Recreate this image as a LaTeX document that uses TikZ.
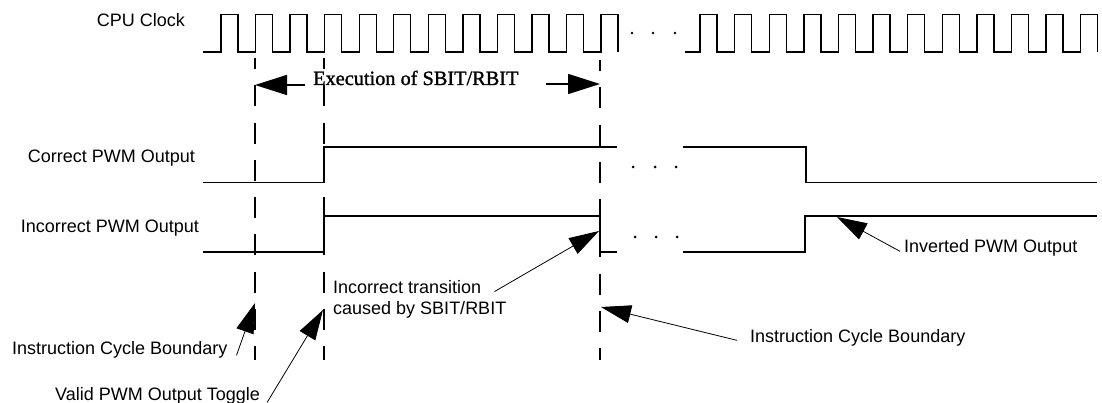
\documentclass[tikz,border=0pt]{standalone}
\usepackage{fontspec}
\setmainfont{Liberation Serif}
\setsansfont{Liberation Sans}
\newfontfamily\exefont[FakeBold=1.3]{Liberation Serif}
\usetikzlibrary{arrows.meta}
\begin{document}
\begin{tikzpicture}[x=1pt,y=-1pt,
  wave/.style={line width=1.4pt, line join=miter},
  bound/.style={line width=1.3pt, dash pattern=on 21pt off 16.3pt, dash phase=10pt},
  lbl/.style={font=\sffamily\fontsize{18}{21}\selectfont, inner sep=0pt},
  note/.style={line width=0.8pt, -{Triangle[length=30pt,width=18pt]}},
  spanarrow/.style={line width=1.6pt, -{Triangle[length=32pt,width=20pt]}},
  dotmark/.style={fill=black, circle, inner sep=0pt, minimum size=3pt}
]
\useasboundingbox (0,0) rectangle (1102,403);

% clock
\draw[wave] (203,52) foreach \k in {0,...,11}{ -- ({221+34.55*\k},52) -- ({221+34.55*\k},14.5) -- ({238+34.55*\k},14.5) -- ({238+34.55*\k},52) };
\draw[wave] (685,52) foreach \k in {0,...,11}{ -- ({700+34.6*\k},52) -- ({700+34.6*\k},14.5) -- ({717+34.6*\k},14.5) -- ({717+34.6*\k},52) };
\foreach \x [count=\i] in {632,653,675} \node[dotmark, minimum size=2.6pt] (cd\i) at (\x,33) {};

% labels
\node[lbl, anchor=base east] (cpu) at (185,27) {CPU Clock};
\node[lbl, anchor=base east] (cor) at (195,163) {Correct PWM Output};
\node[lbl, anchor=base east] (inc) at (199,233) {Incorrect PWM Output};

% boundaries
\coordinate (b1t) at (255,58); \coordinate (b1b) at (255,360);
\coordinate (b2t) at (324,58); \coordinate (b2b) at (324,360);
\coordinate (b3t) at (600,60); \coordinate (b3b) at (600,360);
\draw[bound] (b1t) -- (b1b);
\draw[bound] (b2t) -- (b2b);
\draw[bound] (b3t) -- (b3b);

% execution span
\node[anchor=base west, inner sep=0pt, font=\exefont\fontsize{20.3}{24}\selectfont] (exe) at (313,85) {Execution of SBIT/RBIT};
\coordinate (el) at (255,85); \coordinate (er) at (600,84);
\draw[spanarrow] ([xshift=-8pt]exe.west |- el) -- (el);
\draw[spanarrow] ([xshift=27pt]exe.east |- er) -- (er);

% correct PWM
\draw[wave] (203,182.5) -- (324,182.5) -- (324,147) -- (617,147);
\draw[wave] (683,147) -- (806,147) -- (806,182.5) -- (1097,182.5);
\foreach \x [count=\i] in {633,655,676} \node[dotmark] (pd\i) at (\x,167) {};

% incorrect PWM
\draw[wave] (203,252) -- (324,252) -- (324,216) -- (600,216) -- (600,252) -- (617,252);
\draw[wave] (683,252) -- (805,252) -- (805,216) -- (1097,216);
\foreach \x [count=\i] in {635,656,677} \node[dotmark] (qd\i) at (\x,237) {};

% annotations
\node[lbl, anchor=base west] (itr1) at (333,293) {Incorrect transition};
\node[lbl, anchor=base west] (itr2) at (333,314) {caused by SBIT/RBIT};
\node[lbl, anchor=base west] (inv) at (904,253) {Inverted PWM Output};
\node[lbl, anchor=base west] (icbr) at (750,342) {Instruction Cycle Boundary};
\node[lbl, anchor=base west] (icbl) at (12,354) {Instruction Cycle Boundary};
\node[lbl, anchor=base west] (vpt) at (55,400) {Valid PWM Output Toggle};

\coordinate (t1) at (599,231);
\coordinate (t2) at (837,217);
\coordinate (t3) at (601,307);
\coordinate (t4) at (255,303);
\coordinate (t5) at (323,310);

\draw[note] ([shift={(13pt,-5pt)}]itr1.east) -- (t1);
\draw[note] ([shift={(-4pt,-3pt)}]inv.west) -- (t2);
\draw[note] ([shift={(-13pt,-3pt)}]icbr.west) -- (t3);
\draw[note] ([shift={(9pt,-6pt)}]icbl.east) -- (t4);
\draw[note] ([shift={(7pt,-7pt)}]vpt.east) -- (t5);
\end{tikzpicture}
\end{document}
